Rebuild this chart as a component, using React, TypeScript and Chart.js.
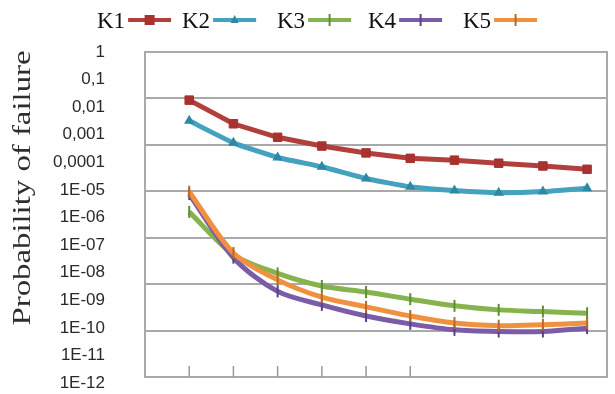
import React, { useEffect, useRef } from "react";
import { Chart, registerables } from "chart.js";

Chart.register(...registerables);

// ---- data ----
const X_POINTS = [1, 2, 3, 4, 5, 6, 7, 8, 9, 10];
const SERIES_NAMES = ["K1", "K2", "K3", "K4", "K5"];
const K1 = [1.8e-2, 2.5e-3, 8.1e-4, 3.9e-4, 2.2e-4, 1.4e-4, 1.2e-4, 9.3e-5, 7.4e-5, 5.6e-5];
const K2 = [3.2e-3, 5.1e-4, 1.5e-4, 6.9e-5, 2.6e-5, 1.3e-5, 9.5e-6, 7.9e-6, 8.7e-6, 1.15e-5];
const K3 = [1.6e-6, 4.5e-8, 9.5e-9, 3.3e-9, 2.0e-9, 1.1e-9, 6.3e-10, 4.5e-10, 3.9e-10, 3.4e-10];
const K4 = [7.1e-6, 3.5e-8, 2.1e-9, 6.8e-10, 2.7e-10, 1.4e-10, 8.5e-11, 7.4e-11, 7.4e-11, 9.8e-11];
const K5 = [8.7e-6, 5.2e-8, 5.5e-9, 1.3e-9, 5.8e-10, 2.7e-10, 1.5e-10, 1.2e-10, 1.3e-10, 1.5e-10];
const Y_TICK_VALUES = [1, 1e-1, 1e-2, 1e-3, 1e-4, 1e-5, 1e-6, 1e-7, 1e-8, 1e-9, 1e-10, 1e-11, 1e-12];
const Y_TICK_LABELS = ["1", "0,1", "0,01", "0,001", "0,0001", "1E-05", "1E-06", "1E-07", "1E-08", "1E-09", "1E-10", "1E-11", "1E-12"];
const X_TICK_MARKS = [1, 2, 3, 4, 5, 6];
const Y_TITLE = "Probability of failure";

// ---- styles ----
const COLORS = ["#b13f3c", "#45a2bf", "#86b34e", "#7a5da6", "#f0913f"];
const MARKER_COLORS = ["#a8322f", "#2f88a6", "#5f8f32", "#5a3f8a", "#b86a2a"];
const POINT_STYLES: any[] = ["rect", "triangle", "line", "line", "line"];
const POINT_RADII = [6, 4, 6, 6, 6];
const POINT_ROT = [0, 0, 90, 90, 90];
const TENSION = [0, 0.15, 0.3, 0.3, 0.3];
const LEGEND_X = [97, 182, 277, 368, 463];
const GRID_COLOR = "#a9a9a9";

const ALL = [K1, K2, K3, K4, K5];

export default function App() {
  const ref = useRef<HTMLCanvasElement | null>(null);

  useEffect(() => {
    document.body.style.margin = "0";
    const canvas = ref.current!;

    const decorPlugin = {
      id: "decor",
      beforeDatasetsDraw(chart: any) {
        const { ctx, chartArea } = chart;
        const xs = chart.scales.x;
        ctx.save();
        ctx.strokeStyle = GRID_COLOR;
        ctx.lineWidth = 2;
        ctx.strokeRect(chartArea.left, chartArea.top, chartArea.right - chartArea.left, chartArea.bottom - chartArea.top);
        ctx.lineWidth = 1.5;
        ctx.strokeStyle = "#999";
        X_TICK_MARKS.forEach((v) => {
          const px = xs.getPixelForValue(v);
          ctx.beginPath();
          ctx.moveTo(px, chartArea.bottom);
          ctx.lineTo(px, chartArea.bottom - 11);
          ctx.stroke();
        });
        ctx.restore();
      },
      afterDraw(chart: any) {
        const { ctx } = chart;
        // y title
        ctx.save();
        ctx.translate(23, 188);
        ctx.rotate(-Math.PI / 2);
        ctx.font = "26px 'Liberation Serif', serif";
        ctx.fillStyle = "#2e2e2e";
        ctx.textAlign = "center";
        ctx.textBaseline = "middle";
        const w = ctx.measureText(Y_TITLE).width;
        ctx.scale(275 / w, 1);
        ctx.fillText(Y_TITLE, 0, 0);
        ctx.restore();
        // legend
        ctx.save();
        ctx.font = "23px 'Liberation Serif', serif";
        ctx.textBaseline = "alphabetic";
        SERIES_NAMES.forEach((name, i) => {
          const x = LEGEND_X[i];
          ctx.fillStyle = "#111";
          ctx.fillText(name, x, 28);
          const tw = ctx.measureText(name).width;
          const x0 = x + tw + 3;
          const x1 = x0 + 43;
          ctx.strokeStyle = COLORS[i];
          ctx.lineWidth = 4;
          ctx.beginPath();
          ctx.moveTo(x0, 20);
          ctx.lineTo(x1, 20);
          ctx.stroke();
          const cx = (x0 + x1) / 2;
          ctx.fillStyle = MARKER_COLORS[i];
          ctx.strokeStyle = MARKER_COLORS[i];
          if (i === 0) {
            ctx.fillRect(cx - 5, 15, 10, 10);
          } else if (i === 1) {
            ctx.beginPath();
            ctx.moveTo(cx, 15);
            ctx.lineTo(cx + 4, 23);
            ctx.lineTo(cx - 4, 23);
            ctx.closePath();
            ctx.fill();
          } else {
            ctx.lineWidth = 2;
            ctx.beginPath();
            ctx.moveTo(cx, 14);
            ctx.lineTo(cx, 26);
            ctx.stroke();
          }
        });
        ctx.restore();
      },
    };

    const chart = new Chart(canvas, {
      type: "line",
      data: {
        datasets: ALL.map((arr, i) => ({
          label: SERIES_NAMES[i],
          data: X_POINTS.map((x, j) => ({ x, y: arr[j] })),
          borderColor: COLORS[i],
          backgroundColor: MARKER_COLORS[i],
          borderWidth: 5,
          pointStyle: POINT_STYLES[i],
          pointRadius: POINT_RADII[i],
          pointRotation: POINT_ROT[i],
          pointBorderColor: MARKER_COLORS[i],
          pointBackgroundColor: MARKER_COLORS[i],
          pointBorderWidth: i === 0 ? 1 : 2,
          tension: TENSION[i],
          yAxisID: "y",
          xAxisID: "x",
          order: 4 - i,
        })),
      },
      plugins: [decorPlugin],
      options: {
        responsive: false,
        animation: false,
        devicePixelRatio: 1,
        layout: { padding: { top: 52, left: 0, right: 7, bottom: 17 } },
        plugins: { legend: { display: false }, tooltip: { enabled: false }, title: { display: false } },
        scales: {
          x: {
            type: "linear",
            min: 0,
            max: 10.45,
            display: false,
          },
          y: {
            type: "logarithmic",
            position: "left",
            min: Math.pow(10, -11.78),
            max: 1,
            afterBuildTicks: (s: any) => {
              s.ticks = Y_TICK_VALUES.map((v) => ({ value: v }));
            },
            afterFit: (s: any) => {
              s.width = 145;
              s.paddingTop = 0;
              s.paddingBottom = 0;
            },
            grid: { display: false, drawTicks: false },
            border: { display: false },
            ticks: {
              autoSkip: false,
              padding: 40,
              color: "#2a2a2a",
              font: { family: "'Liberation Sans', Arial, sans-serif", size: 17 },
              callback: (_v: any, idx: number) => Y_TICK_LABELS[idx],
            },
          },
          g: {
            type: "linear",
            position: "right",
            min: 0,
            max: 7,
            afterFit: (s: any) => {
              s.width = 0;
              s.paddingTop = 0;
              s.paddingBottom = 0;
            },
            ticks: { display: false, stepSize: 1 },
            grid: { color: GRID_COLOR, lineWidth: 2, drawTicks: false },
            border: { display: false },
          },
        },
      } as any,
    });
    return () => chart.destroy();
  }, []);

  return (
    <div style={{ width: 615, height: 394, background: "#fff" }}>
      <canvas ref={ref} width={615} height={394} />
    </div>
  );
}
